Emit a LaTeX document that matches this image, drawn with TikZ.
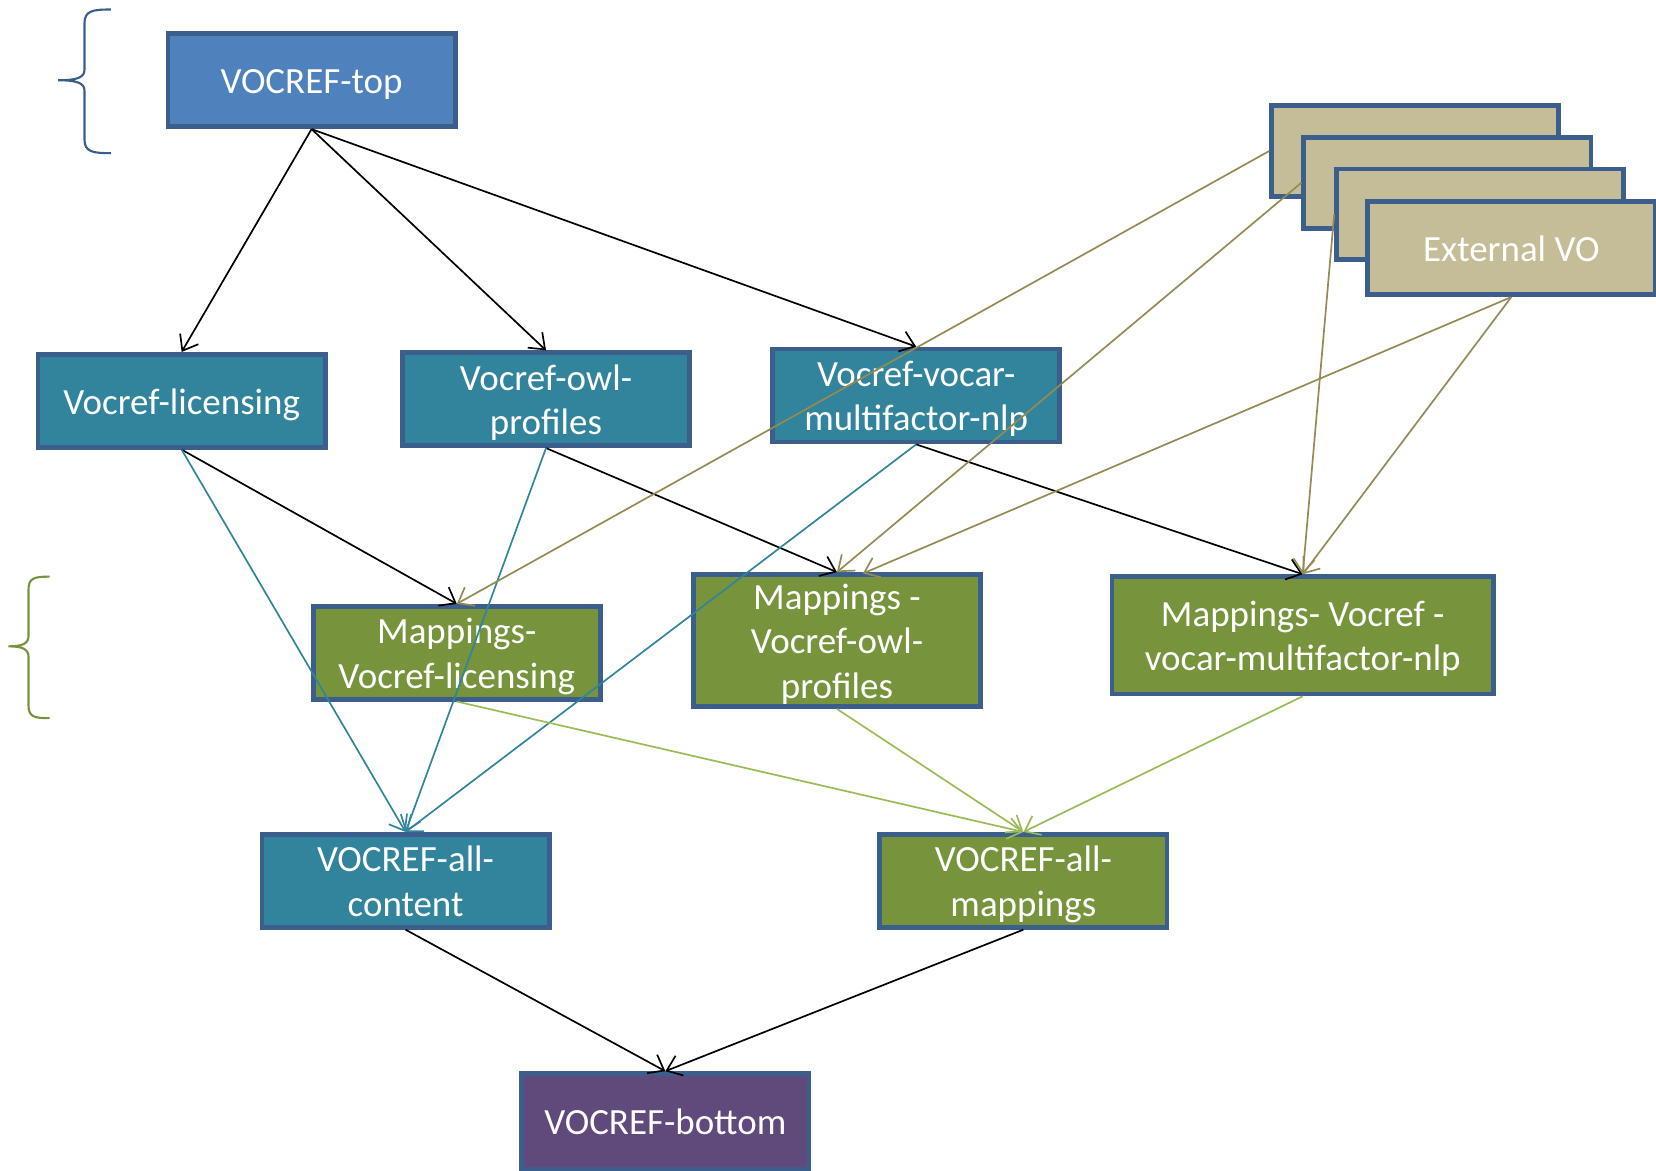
\documentclass[tikz,border=0pt]{standalone}
\usepackage{fontspec}
\setmainfont{Carlito}
\usetikzlibrary{arrows.meta}
\definecolor{bordc}{HTML}{3B5E8C}
\definecolor{topfill}{HTML}{4F81BD}
\definecolor{tealfill}{HTML}{31849B}
\definecolor{greenfill}{HTML}{77933C}
\definecolor{purplefill}{HTML}{604A7B}
\definecolor{tanfill}{HTML}{C4BD97}
\definecolor{teal line}{HTML}{31849B}
\definecolor{lgreen}{HTML}{9BBB59}
\definecolor{olive line}{HTML}{948A54}
\definecolor{braceblue}{HTML}{385D8A}
\definecolor{bracegreen}{HTML}{77933C}
\newcommand\upstrutx{\rule{0pt}{33pt}}
\newcommand\downstrutx{\rule[-8pt]{0pt}{8pt}}
\begin{document}
\begin{tikzpicture}[x=1pt,y=-1pt,
  box/.style={draw=bordc, line width=4.5pt, text=white,
    font=\fontsize{35}{42}\selectfont, align=center, inner sep=0pt,
    minimum width=272pt, minimum height=88pt},
  arr/.style={line width=1.6pt, -{Straight Barb[length=13pt,width=20pt]}},
  blackarr/.style={arr, draw=black},
  tealarr/.style={arr, draw=teal line},
  greenarr/.style={arr, draw=lgreen},
  olivearr/.style={arr, draw=olive line},
  bracestyle/.style={line width=2pt}
]
\useasboundingbox (0,0) rectangle (1568,1108);

% braces
\draw[bracestyle, braceblue] (105,9) .. controls (88,9) and (80,10) .. (80,22)
  -- (80,66) .. controls (80,73) and (74,76) .. (55,76)
  .. controls (74,76) and (80,79) .. (80,86)
  -- (80,132) .. controls (80,144) and (88,145) .. (105,145);
\draw[bracestyle, bracegreen] (47,546) .. controls (33,546) and (27,547) .. (27,558)
  -- (27,602) .. controls (27,609) and (22,612) .. (8,612)
  .. controls (22,612) and (27,615) .. (27,622)
  -- (27,668) .. controls (27,679) and (33,680) .. (47,680);

% nodes
\node[box, fill=topfill] (top) at (295,76) {\upstrutx VOCREF-top\downstrutx};
\node[box, fill=tealfill] (lic) at (172,379.5) {\upstrutx Vocref-licensing\downstrutx};
\node[box, fill=tealfill] (owl) at (517,378) {\upstrutx Vocref-owl-\\profiles\downstrutx};
\node[box, fill=tealfill] (voc) at (867.5,374.5) {\upstrutx Vocref-vocar-\\multifactor-nlp\downstrutx};
\node[box, fill=greenfill] (mlic) at (432.5,618) {\upstrutx Mappings-\\Vocref-licensing\downstrutx};
\node[box, fill=greenfill, minimum height=117pt] (mowl) at (792.5,606.5) {\upstrutx Mappings -\\Vocref-owl-\\profiles\downstrutx};
\node[box, fill=greenfill, minimum width=361pt, minimum height=111pt] (mvoc) at (1233.5,601.5) {\upstrutx Mappings- Vocref -\\vocar-multifactor-nlp\downstrutx};
\node[box, fill=tealfill] (allc) at (384,834) {\upstrutx VOCREF-all-\\content\downstrutx};
\node[box, fill=greenfill] (allm) at (969,834) {\upstrutx VOCREF-all-\\mappings\downstrutx};
\node[box, fill=purplefill, minimum height=91pt] (bot) at (630,1062) {\upstrutx VOCREF-bottom\downstrutx};

\node[box, fill=tanfill, minimum height=86pt] (ext1) at (1340,143) {};
\node[box, fill=tanfill, minimum height=86pt] (ext2) at (1370.5,173) {};
\node[box, fill=tanfill, minimum height=86pt] (ext3) at (1401.5,203) {};
\node[box, fill=tanfill, minimum height=88pt] (ext4) at (1431,235) {\upstrutx External VO\downstrutx};
\coordinate (owlin) at (817,543);

% black connectors
\draw[blackarr] (top.south) -- (lic.north);
\draw[blackarr] (top.south) -- (owl.north);
\draw[blackarr] (top.south) -- (voc.north);
\draw[blackarr] (lic.south) -- (mlic.north);
\draw[blackarr] (owl.south) -- (mowl.north);
\draw[blackarr] (voc.south) -- (mvoc.north);
\draw[blackarr] (allc.south) -- (bot.north);
\draw[blackarr] (allm.south) -- (bot.north);

% teal connectors
\draw[tealarr] (lic.south) -- (allc.north);
\draw[tealarr] (owl.south) -- (allc.north);
\draw[tealarr] (voc.south) -- (allc.north);

% light green connectors
\draw[greenarr] (mlic.south) -- (allm.north);
\draw[greenarr] (mowl.south) -- (allm.north);
\draw[greenarr] (mvoc.south) -- (allm.north);

% olive connectors
\draw[olivearr] (ext1.west) -- (mlic.north);
\draw[olivearr] (ext2.west) -- (mowl.north);
\draw[olivearr] (ext3.west) -- (mvoc.north);
\draw[olivearr] (ext4.south) -- (owlin);
\draw[olivearr] (ext4.south) -- (mvoc.north);
\end{tikzpicture}
\end{document}
